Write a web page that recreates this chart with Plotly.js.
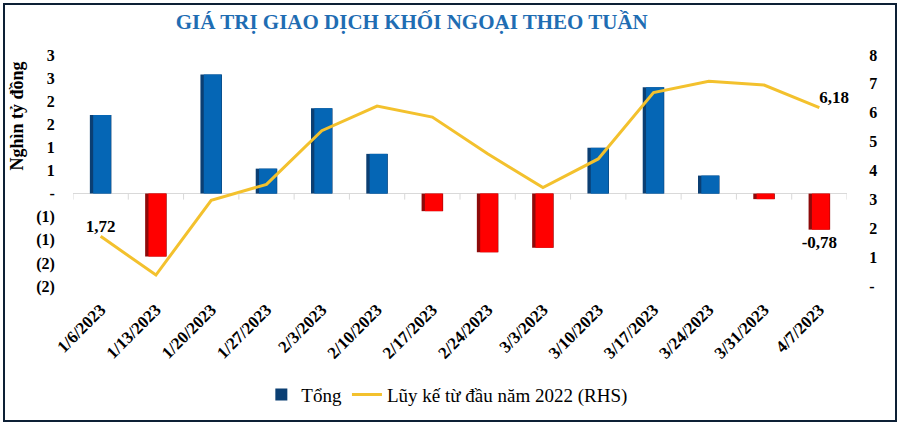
<!DOCTYPE html>
<html>
<head>
<meta charset="utf-8">
<script src="https://cdn.plot.ly/plotly-3.0.1.min.js"></script>
<style>
html,body{margin:0;padding:0;background:#fff;}
#wrap{position:relative;width:899px;height:426px;}
#chart{width:899px;height:426px;}
#frame{position:absolute;left:3px;top:3px;width:894px;height:419px;box-sizing:border-box;border:2px solid #0d2035;pointer-events:none;}
</style>
</head>
<body>
<div id="wrap"><div id="chart"></div><div id="frame"></div></div>
<script>
// ---- data ----
const weeks = ["1/6/2023","1/13/2023","1/20/2023","1/27/2023","2/3/2023","2/10/2023","2/17/2023","2/24/2023","3/3/2023","3/10/2023","3/17/2023","3/24/2023","3/31/2023","4/7/2023"];
const tong = [1.70,-1.36,2.58,0.54,1.85,0.86,-0.38,-1.27,-1.17,0.99,2.30,0.39,-0.12,-0.78];
const luyKe = [1.72,0.38,2.97,3.52,5.38,6.23,5.85,4.58,3.41,4.40,6.70,7.09,6.96,6.18];
const tongLabels = ["","","","","","","","","","","","","","-0,78"];
const luyKeLabels = ["1,72","","","","","","","","","","","","","6,18"];
const leftTickVals = [-2,-1.5,-1,-0.5,0,0.5,1,1.5,2,2.5,3];
const leftTickText = ["(2)","(2)","(1)","(1)","-","1","1","2","2","3","3"];
const rightTickVals = [0,1,2,3,4,5,6,7,8];
const rightTickText = ["-","1","2","3","4","5","6","7","8"];
const titleText = "GIÁ TRỊ GIAO DỊCH KHỐI NGOẠI THEO TUẦN";
const yTitleText = "Nghìn tỷ đồng";
const seriesNames = ["Tổng","Lũy kế từ đầu năm 2022 (RHS)"];

// ---- style ----
const SERIF = "Liberation Serif, Times New Roman, serif";
const darkCol = tong.map(v => v >= 0 ? "#0b3f73" : "#8e0a0a");
const brightCol = tong.map(v => v >= 0 ? "#0566b5" : "#ff0000");
const labelFont = {family:SERIF,size:17,color:"#000",weight:"bold"};

const traces = [
  {type:"bar", x:weeks, y:tong, name:seriesNames[0], width:0.39, offset:-0.195,
   marker:{color:darkCol}, text:tongLabels, textposition:"outside", cliponaxis:false,
   constraintext:"none", textfont:labelFont, hoverinfo:"x+y"},
  {type:"bar", x:weeks, y:tong, name:seriesNames[0], width:0.32, offset:-0.135,
   marker:{color:brightCol}, showlegend:false, hoverinfo:"skip"},
  {type:"scatter", mode:"lines+text", x:weeks, y:luyKe, yaxis:"y2", name:seriesNames[1],
   line:{color:"#f3c12d",width:3}, text:luyKeLabels,
   textposition:luyKeLabels.map((t,i)=> i===0 ? "top center" : "top right"),
   textfont:labelFont, cliponaxis:false}
];

const shapes = [];
for (let i = 0; i <= weeks.length; i++) {
  shapes.push({type:"line", xref:"x", yref:"y", x0:i-0.5, x1:i-0.5,
    ysizemode:"pixel", yanchor:0, y0:0, y1:-6, line:{color:"#d9d9d9",width:1}});
}

const tickFont = {family:SERIF,size:16,color:"#000",weight:"bold"};
const layout = {
  width:899, height:426,
  margin:{l:73,r:52,t:55,b:138},
  paper_bgcolor:"#fff", plot_bgcolor:"#fff",
  barmode:"overlay",
  showlegend:true,
  title:{text:"<b>"+titleText+"</b>", x:0.458, xref:"container", xanchor:"center",
    y:0.95, yref:"container", yanchor:"middle",
    font:{family:SERIF,size:21,color:"#1f6db3"}},
  xaxis:{type:"category", range:[-0.5,13.5], showgrid:false, showline:false, zeroline:false,
    tickangle:-45, ticks:"outside", ticklen:6, tickcolor:"rgba(0,0,0,0)",
    tickfont:{family:SERIF,size:17,color:"#000",weight:"bold"}},
  yaxis:{range:[-2,3], tickvals:leftTickVals, ticktext:leftTickText, showgrid:false,
    showline:false, zeroline:true, zerolinecolor:"#d9d9d9", zerolinewidth:1,
    ticks:"outside", ticklen:14, tickcolor:"rgba(0,0,0,0)", tickfont:tickFont},
  yaxis2:{range:[0,8], overlaying:"y", side:"right", tickvals:rightTickVals, ticktext:rightTickText,
    showgrid:false, showline:false, zeroline:false,
    ticks:"outside", ticklen:18, tickcolor:"rgba(0,0,0,0)", tickfont:tickFont},
  legend:{orientation:"h", x:0.483, xanchor:"center", y:-0.47, yanchor:"middle",
    font:{family:SERIF,size:19,color:"#000"}, traceorder:"normal", itemwidth:30},
  annotations:[{text:"<b>"+yTitleText+"</b>", xref:"paper", yref:"paper",
    x:-0.072, y:0.735, xanchor:"center", yanchor:"middle", textangle:-90, showarrow:false,
    font:{family:SERIF,size:18,color:"#000"}}],
  shapes:shapes
};

Plotly.newPlot("chart", traces, layout, {displayModeBar:false, staticPlot:true});
</script>
</body>
</html>
